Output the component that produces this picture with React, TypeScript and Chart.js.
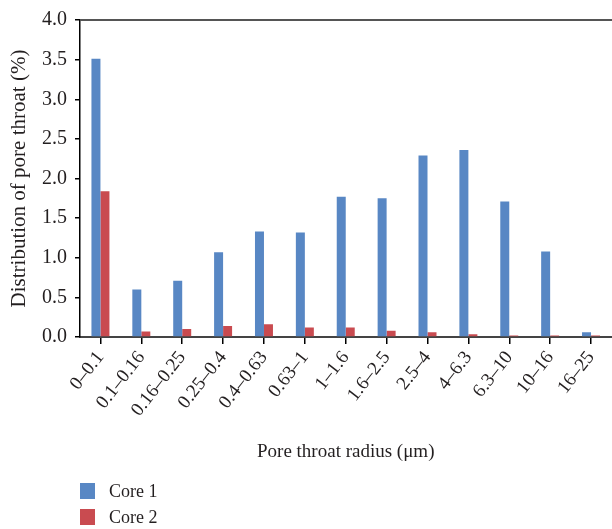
import React, { useEffect, useRef } from "react";
import { Chart, registerables } from "chart.js";

Chart.register(...registerables);

const categories = ["0–0.1", "0.1–0.16", "0.16–0.25", "0.25–0.4", "0.4–0.63", "0.63–1", "1–1.6", "1.6–2.5", "2.5–4", "4–6.3", "6.3–10", "10–16", "16–25"];
const core1 = [3.51, 0.6, 0.71, 1.07, 1.33, 1.32, 1.77, 1.75, 2.29, 2.36, 1.71, 1.08, 0.06];
const core2 = [1.84, 0.07, 0.1, 0.14, 0.16, 0.12, 0.12, 0.08, 0.06, 0.035, 0.02, 0.02, 0.02];
const seriesNames = ["Core 1", "Core 2"];
const colors = ["#5887c4", "#c94b50"];
const xTitle = "Pore throat radius (\u03bcm)";
const yTitle = "Distribution of pore throat (%)";

const FONT = "'Liberation Serif', 'DejaVu Serif', serif";
const TEXT = "#231f20";

const topLine = {
  id: "topLine",
  afterDraw(chart: any) {
    const { ctx, chartArea } = chart;
    ctx.save();
    ctx.strokeStyle = "#555555";
    ctx.lineWidth = 2;
    ctx.beginPath();
    ctx.moveTo(chartArea.left, chartArea.top);
    ctx.lineTo(chart.width, chartArea.top);
    ctx.stroke();
    ctx.restore();
  },
};

export default function App() {
  const ref = useRef<HTMLCanvasElement>(null);
  useEffect(() => {
    const chart = new Chart(ref.current!, {
      type: "bar",
      data: {
        labels: categories,
        datasets: [
          { label: seriesNames[0], data: core1, backgroundColor: colors[0] },
          { label: seriesNames[1], data: core2, backgroundColor: colors[1] },
        ],
      },
      options: {
        animation: false,
        responsive: false,
        maintainAspectRatio: false,
        layout: { padding: { top: 19, left: 0, right: 0, bottom: 52 } },
        datasets: { bar: { categoryPercentage: 0.44, barPercentage: 1 } },
        plugins: { legend: { display: false }, tooltip: { enabled: false } },
        scales: {
          x: {
            afterFit: (s: any) => { s.height = 140; },
            grid: { display: true, drawOnChartArea: false, offset: false, tickLength: 7, color: "#000", lineWidth: 1.5 },
            border: { display: true, color: "#444", width: 2 },
            ticks: { minRotation: 52, maxRotation: 52, padding: 3, color: TEXT, font: { family: FONT, size: 19 } },
            title: { display: true, text: xTitle, color: TEXT, font: { family: FONT, size: 19 }, padding: { top: 14, bottom: 14 } },
          },
          y: {
            min: 0,
            max: 4,
            afterFit: (s: any) => { s.width = 80; },
            grid: { display: true, drawOnChartArea: false, tickLength: 5, color: "#000", lineWidth: 1.5 },
            border: { display: true, color: "#000", width: 1.5 },
            ticks: { stepSize: 0.5, padding: 8, color: TEXT, font: { family: FONT, size: 20 }, callback: (v: any) => Number(v).toFixed(1) },
            title: { display: true, text: yTitle, color: TEXT, font: { family: FONT, size: 21 }, padding: { top: 7, bottom: 7 } },
          },
        },
      },
      plugins: [topLine],
    });
    return () => chart.destroy();
  }, []);

  const legendRow = (i: number) => (
    <div key={i} style={{ position: "absolute", left: 80, top: 483 + i * 26, height: 16, display: "flex", alignItems: "center" }}>
      <div style={{ width: 15, height: 16, background: colors[i] }} />
      <span style={{ marginLeft: 14, font: `18px ${FONT}`, color: TEXT, lineHeight: "16px" }}>{seriesNames[i]}</span>
    </div>
  );

  return (
    <div style={{ position: "fixed", left: 0, top: 0, width: 612, height: 529, background: "#fff", overflow: "hidden" }}>
      <canvas ref={ref} width={612} height={529} style={{ position: "absolute", left: 0, top: 0, width: 612, height: 529 }} />
      {legendRow(0)}
      {legendRow(1)}
    </div>
  );
}
